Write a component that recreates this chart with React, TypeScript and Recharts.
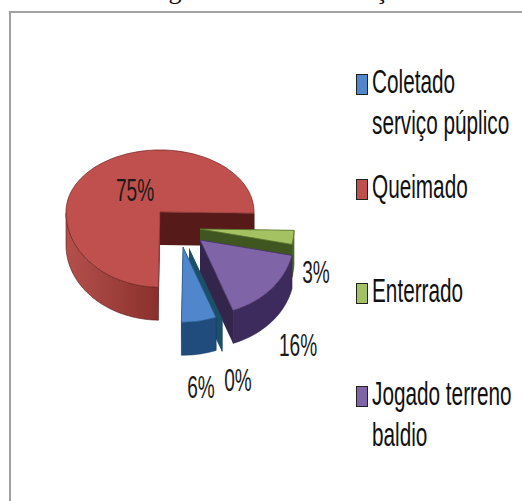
import { Cell, Legend, Pie, PieChart } from "recharts";

// clockwise from due south; the empty category only shows up as a cut face
const categories = ["Queimado", "Enterrado", "Jogado terreno baldio", "Outros", "Coletado serviço púplico"];
const shares = [75, 3, 16, 0, 6];
const legendOrder = [4, 0, 1, 2];
const legendLines = [
  ["Coletado", "serviço púplico"],
  ["Queimado"],
  ["Enterrado"],
  ["Jogado terreno", "baldio"],
];

const chartData = categories.map((name, i) => ({ name, value: shares[i] }));

const WIDTH = 522;
const HEIGHT = 501;
const DEPTH = 33;
const FONT = '"Liberation Sans", sans-serif';

// top, rim and cut-face colours, same order as categories
const topFill = ["#c0504d", "#a4c261", "#8064a8", "#1c4f68", "#4f86cc"];
const rimFill = ["url(#redRim)", "#4f6b26", "#3c2b5c", "#1c4f68", "#1f4c7c"];
const cutFill = ["#561a18", "#3f5620", "#33254c", "#1c4f68", "#173c60"];
const edge = ["#7a2c2a", "#5d7430", "#4a3668", "#163f54", "#2a5a8c"];

// how far each slice is pulled out of the pie
const explode = [
  [0, 0],
  [40, 17],
  [40, 28],
  [29, 36],
  [23, 35],
];

const labelSpots = [
  [-25, -22],
  [156, 60],
  [138, 133],
  [78, 168],
  [41, 175],
];

const legendTops = [70, 175, 279, 382];
const LINE_GAP = 41;

// the pie is seen slightly from above, and the near half looks deeper
function project(deg: number, r: number) {
  const rad = (deg * Math.PI) / 180;
  const s = Math.sin(rad);
  return { x: r * Math.cos(rad), y: -r * s * (s > 0 ? 0.66 : 0.8) };
}

function sweep(from: number, to: number) {
  const n = Math.max(1, Math.ceil(Math.abs(to - from) / 2));
  return Array.from({ length: n + 1 }, (_, i) => from + ((to - from) * i) / n);
}

type Pt = { x: number; y: number };
const toPath = (pts: Pt[]) => "M" + pts.map((p) => `${p.x.toFixed(1)},${p.y.toFixed(1)}`).join("L") + "Z";
const drop = (p: Pt) => ({ x: p.x, y: p.y + DEPTH });

function Slice3D(props: any) {
  const { cx, cy, outerRadius, startAngle, endAngle, index } = props;
  const [dx, dy] = explode[index];
  const apex = { x: 0, y: 0 };
  const angles = sweep(startAngle, endAngle);
  const rim = angles.map((a) => project(a, outerRadius));
  const first = rim[0];
  const last = rim[rim.length - 1];

  // only the stretches of rim facing the viewer get a wall
  const runs: Pt[][] = [];
  let run: Pt[] = [];
  angles.forEach((a, i) => {
    if (Math.sin((a * Math.PI) / 180) <= 0) run.push(rim[i]);
    else if (run.length) {
      runs.push(run);
      run = [];
    }
  });
  if (run.length) runs.push(run);

  return (
    <g transform={`translate(${cx + dx},${cy + dy})`}>
      <path d={toPath([apex, first, drop(first), drop(apex)])} fill={cutFill[index]} />
      <path d={toPath([apex, last, drop(last), drop(apex)])} fill={cutFill[index]} />
      {runs.map((r, i) => (
        <path key={i} d={toPath([...r, ...[...r].reverse().map(drop)])} fill={rimFill[index]} stroke={cutFill[index]} strokeWidth={0.6} />
      ))}
      {startAngle !== endAngle && (
        <path d={toPath([apex, ...rim])} fill={topFill[index]} stroke={edge[index]} strokeWidth={0.8} />
      )}
    </g>
  );
}

function SliceLabel(props: any) {
  const { cx, cy, index, value } = props;
  const [dx, dy] = labelSpots[index];
  return (
    <text
      x={0}
      y={0}
      transform={`translate(${cx + dx},${cy + dy}) scale(0.83,1.35)`}
      textAnchor="middle"
      dominantBaseline="central"
      fontFamily={FONT}
      fontSize={23}
      fill="#1a1a1a"
    >
      {`${value}%`}
    </text>
  );
}

function SideLegend() {
  return (
    <div style={{ position: "relative", width: WIDTH, height: 0 }}>
      {legendOrder.map((c, i) => (
        <div key={c} style={{ position: "absolute", left: 356, top: legendTops[i], fontFamily: FONT, fontSize: 25, color: "#111" }}>
          <span
            style={{
              position: "absolute",
              left: 0,
              top: 4,
              width: 10,
              height: 19,
              background: topFill[c],
              border: "1.5px solid #222",
            }}
          />
          {legendLines[i].map((line, j) => (
            <div
              key={line}
              style={{
                position: "absolute",
                left: 16,
                top: j * LINE_GAP - 4,
                whiteSpace: "nowrap",
                lineHeight: "30px",
                transform: "scale(0.83,1.3)",
                transformOrigin: "left center",
              }}
            >
              {line}
            </div>
          ))}
        </div>
      ))}
    </div>
  );
}

export default function App() {
  return (
    <div style={{ position: "absolute", left: 0, top: 0, width: WIDTH, height: HEIGHT, overflow: "hidden", background: "#fff" }}>
      <PieChart width={WIDTH} height={HEIGHT} margin={{ top: 0, right: 0, bottom: 0, left: 0 }}>
        <defs>
          <linearGradient id="redRim" x1="0" y1="0" x2="1" y2="0">
            <stop offset="0%" stopColor="#b4504c" />
            <stop offset="100%" stopColor="#8a302c" />
          </linearGradient>
        </defs>
        {/* frame of the chart area, runs off the right and bottom */}
        <polyline points={`${WIDTH},12 10,12 10,${HEIGHT}`} fill="none" stroke="#a2a2a2" strokeWidth={2} />
        {/* caption above the frame is cut off, only these descenders are left */}
        <text x={175} y={-1} textAnchor="middle" fontFamily="Liberation Serif" fontSize={26} fill="#111">g</text>
        <text x={381} y={-1} textAnchor="middle" fontFamily="Liberation Serif" fontSize={26} fill="#111">ç</text>
        <Pie
          data={chartData}
          dataKey="value"
          nameKey="name"
          cx={160}
          cy={212}
          outerRadius={94}
          startAngle={-91}
          endAngle={-451}
          stroke="none"
          shape={Slice3D}
          label={SliceLabel}
          labelLine={false}
          isAnimationActive={false}
        >
          {chartData.map((d, i) => (
            <Cell key={d.name} fill={topFill[i]} />
          ))}
        </Pie>
        <Legend content={SideLegend} wrapperStyle={{ position: "absolute", left: 0, top: 0, width: WIDTH, height: 0 }} />
      </PieChart>
    </div>
  );
}
